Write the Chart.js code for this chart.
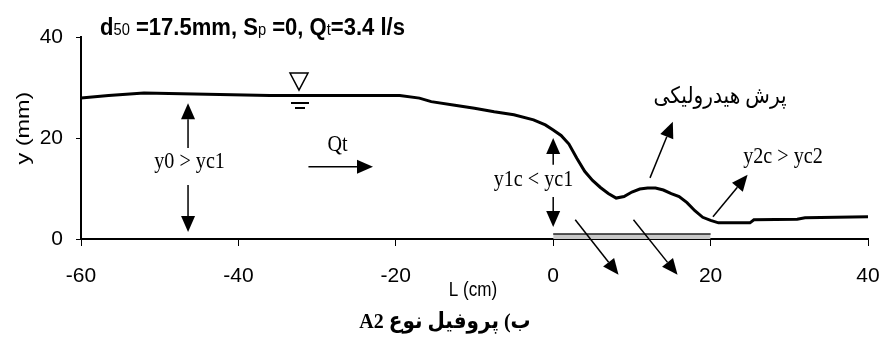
<!DOCTYPE html>
<html>
<head>
<meta charset="utf-8">
<script src="https://cdn.jsdelivr.net/npm/chart.js@4.4.1/dist/chart.umd.min.js"></script>
<style>
  html, body { margin: 0; padding: 0; background: #fff; }
  #wrap { width: 880px; height: 339px; }
</style>
</head>
<body>
<div id="wrap"><canvas id="chart" width="880" height="339"></canvas></div>
<script>
// water surface profile
const profileL = [-60, -56.5, -52, -36, -19.5, -17, -15.5, -12.5, -10, -7.5, -5, -2.5, -1,
    0, 1, 2, 3, 4, 5, 6, 7, 8, 9, 10, 11, 12, 13, 14, 15, 16, 17, 18, 19, 20, 21, 25, 25.5, 31, 32, 40];
const profileY = [27.9, 28.4, 28.9, 28.4, 28.4, 27.9, 27.2, 26.5, 25.9, 25.2, 24.6, 23.6, 22.6,
    21.6, 20.5, 18.8, 16.0, 13.4, 11.6, 10.2, 9.0, 8.1, 8.4, 9.3, 9.9, 10.1, 10.1, 9.7, 9.0, 8.4, 7.2, 5.6, 4.3, 3.7, 3.2, 3.2, 3.8, 3.9, 4.2, 4.4];

// rough bed strip
const sillL = [0, 20];
const sillY = [1, 1];

const xTicks = [-60, -40, -20, 0, 20, 40];
const yTicks = [0, 20, 40];

const sans = "'Liberation Sans', Arial, sans-serif";
const serif = "'Liberation Serif', 'Times New Roman', 'DejaVu Sans', serif";

// arrows in data units: [x1, y1, x2, y2]
const arrows = [
    [-46.4, 18.0, -46.4, 26.9],
    [-46.4, 10.7, -46.4, 1.4],
    [-31.1, 14.3, -22.9, 14.3],
    [0, 14.7, 0, 20.0],
    [0, 8.3, 0, 2.4],
    [12.3, 12.1, 15.2, 23.2],
    [20.3, 4.4, 24.7, 12.7],
    [2.8, 3.8, 8.3, -7.1],
    [10.2, 3.8, 15.8, -7.1]
];

// labels in data units
const labels = [
    { text: 'y0 > yc1', x: -46.2, y: 15.2, font: '19px ' + serif },
    { text: 'Qt', x: -27.4, y: 18.6, font: '19px ' + serif },
    { text: 'y1c < yc1', x: -2.5, y: 11.7, font: '19px ' + serif },
    { text: 'y2c > yc2', x: 29.2, y: 16.2, font: '19px ' + serif },
    { text: 'پرش هیدرولیکی', x: 21.2, y: 28.1, font: '19px ' + serif, rtl: true }
];

function drawArrow(ctx, x1, y1, x2, y2) {
    const ang = Math.atan2(y2 - y1, x2 - x1);
    const head = 16, half = 7;
    const bx = x2 - head * Math.cos(ang), by = y2 - head * Math.sin(ang);
    ctx.beginPath();
    ctx.moveTo(x1, y1);
    ctx.lineTo(bx, by);
    ctx.stroke();
    ctx.beginPath();
    ctx.moveTo(x2, y2);
    ctx.lineTo(bx + half * Math.sin(ang), by - half * Math.cos(ang));
    ctx.lineTo(bx - half * Math.sin(ang), by + half * Math.cos(ang));
    ctx.closePath();
    ctx.fill();
}

// text squeezed / stretched like the scanned figure
function stretchText(ctx, text, x, y, sx, sy) {
    ctx.save();
    ctx.translate(x, y);
    ctx.scale(sx, sy);
    ctx.fillText(text, 0, 0);
    ctx.restore();
}

const notes = {
    id: 'notes',
    afterDraw(chart) {
        const ctx = chart.ctx;
        const sx = chart.scales.x, sy = chart.scales.y;
        const px = v => sx.getPixelForValue(v);
        const py = v => sy.getPixelForValue(v);
        ctx.save();
        ctx.fillStyle = '#000';
        ctx.strokeStyle = '#000';
        ctx.lineWidth = 1.5;

        for (const a of arrows) {
            drawArrow(ctx, px(a[0]), py(a[1]), px(a[2]), py(a[3]));
        }

        ctx.textAlign = 'center';
        ctx.textBaseline = 'middle';
        for (const l of labels) {
            ctx.font = l.font;
            ctx.direction = l.rtl ? 'rtl' : 'ltr';
            stretchText(ctx, l.text, px(l.x), py(l.y), 1.06, 1.2);
        }
        ctx.direction = 'ltr';

        // water surface symbol
        const wx = px(-32.3), wy = py(29.5);
        ctx.lineWidth = 1.5;
        ctx.beginPath();
        ctx.moveTo(wx - 9, wy - 17);
        ctx.lineTo(wx + 9, wy - 17);
        ctx.lineTo(wx, wy);
        ctx.closePath();
        ctx.stroke();
        ctx.lineWidth = 2;
        ctx.beginPath();
        ctx.moveTo(wx - 8, wy + 13); ctx.lineTo(wx + 10, wy + 13);
        ctx.moveTo(wx - 4, wy + 18); ctx.lineTo(wx + 6, wy + 18);
        ctx.stroke();

        // title with subscripts
        const big = 'bold 21px ' + sans, small = '14px ' + sans;
        const parts = [['d', big], ['50', small], [' =17.5mm, S', big], ['p', small],
            [' =0, Q', big], ['t', small], ['=3.4 l/s', big]];
        ctx.textAlign = 'left';
        ctx.textBaseline = 'alphabetic';
        let tx = 100;
        for (const [s, f] of parts) {
            ctx.font = f;
            const w = ctx.measureText(s).width * 1.05;
            stretchText(ctx, s, tx, 35, 1.05, 1.15);
            tx += w;
        }

        // axis titles
        ctx.textAlign = 'center';
        ctx.textBaseline = 'middle';
        ctx.font = '18px ' + sans;
        stretchText(ctx, 'L (cm)', 473, 290, 0.95, 1.15);
        ctx.save();
        ctx.translate(24, 128);
        ctx.rotate(-Math.PI / 2);
        ctx.scale(1.3, 1);
        ctx.fillText('y (mm)', 0, 0);
        ctx.restore();

        // caption
        ctx.font = 'bold 20px ' + serif;
        ctx.direction = 'rtl';
        stretchText(ctx, 'ب) پروفیل نوع A2', 445, 322, 1, 1.1);
        ctx.restore();
    }
};

const axisStyle = {
    grid: { drawOnChartArea: false, drawTicks: true, color: '#000', lineWidth: 1 },
    border: { display: true, color: '#000', width: 2 }
};

new Chart(document.getElementById('chart'), {
    type: 'line',
    data: {
        datasets: [
            {
                data: profileL.map((l, i) => ({ x: l, y: profileY[i] })),
                borderColor: '#000',
                borderWidth: 3,
                pointRadius: 0,
                tension: 0
            },
            {
                data: sillL.map((l, i) => ({ x: l, y: sillY[i] })),
                borderColor: '#222',
                borderWidth: 1.5,
                backgroundColor: '#c8c8c8',
                fill: 'origin',
                pointRadius: 0
            }
        ]
    },
    options: {
        responsive: false,
        animation: false,
        layout: { padding: { top: 37, right: 12, left: 0, bottom: 0 } },
        plugins: { legend: { display: false }, tooltip: { enabled: false } },
        scales: {
            x: {
                type: 'linear',
                min: -60, max: 40,
                afterBuildTicks: s => { s.ticks = xTicks.map(v => ({ value: v })); },
                afterFit: s => { s.height = 100; s.paddingLeft = 0; s.paddingRight = 0; },
                ticks: { color: '#000', font: { family: sans, size: 21 }, padding: 18, maxRotation: 0 },
                grid: { ...axisStyle.grid, tickLength: 7 },
                border: axisStyle.border
            },
            y: {
                min: 0, max: 40,
                afterBuildTicks: s => { s.ticks = yTicks.map(v => ({ value: v })); },
                afterFit: s => { s.width = 81; s.paddingTop = 0; s.paddingBottom = 0; },
                ticks: { color: '#000', font: { family: sans, size: 21 }, padding: 13 },
                grid: { ...axisStyle.grid, tickLength: 5 },
                border: axisStyle.border
            }
        }
    },
    plugins: [notes]
});
</script>
</body>
</html>
